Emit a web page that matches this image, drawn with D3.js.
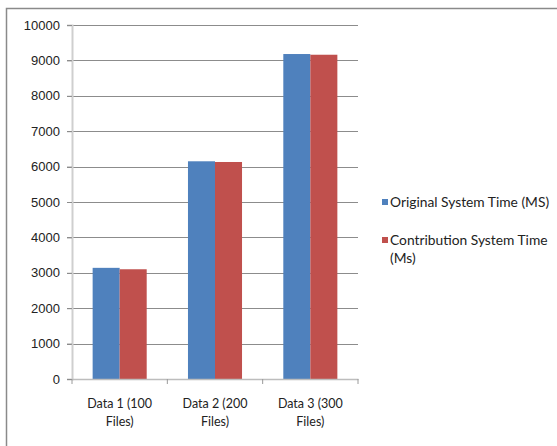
<!DOCTYPE html>
<html>
<head>
<meta charset="utf-8">
<script src="https://cdn.jsdelivr.net/npm/d3@7"></script>
<style>
  html, body { margin: 0; padding: 0; background: #fff; }
  svg { display: block; }
  text { font-family: "Liberation Sans", Arial, sans-serif; }
  .cat, .leg { font-family: Lato, "Open Sans", sans-serif; }
</style>
</head>
<body>
<svg id="chart" width="557" height="446"></svg>
<script>
// Categories and series
const categories = ["Data 1 (100 Files)", "Data 2 (200 Files)", "Data 3 (300 Files)"];
const categoryLines = [["Data 1 (100", "Files)"], ["Data 2 (200", "Files)"], ["Data 3 (300", "Files)"]];
const seriesNames = ["Original System Time (MS)", "Contribution System Time (Ms)"];
const legendLines = [["Original System Time (MS)"], ["Contribution System Time", "(Ms)"]];
const originalTime = [3140, 6150, 9180];
const contributionTime = [3100, 6130, 9160];
const yTicks = [0, 1000, 2000, 3000, 4000, 5000, 6000, 7000, 8000, 9000, 10000];
const colors = ["#4F81BD", "#C0504D"];

const svg = d3.select("#chart");

// Chart area frame
svg.append("rect")
  .attr("x", 6.5).attr("y", 8.5)
  .attr("width", 600).attr("height", 500)
  .attr("fill", "#fff").attr("stroke", "#8a8a8a").attr("stroke-width", 1.5);

const plot = { left: 72, right: 358, top: 25, bottom: 379 };

const x = d3.scaleBand().domain(categories).range([plot.left, plot.right]).paddingInner(0).paddingOuter(0);
const y = d3.scaleLinear().domain([0, 10000]).range([plot.bottom, plot.top]);
const groupWidth = x.bandwidth() * 0.567;
const xs = d3.scaleBand().domain(seriesNames).range([0, groupWidth]).padding(0);

// Gridlines
svg.append("g").selectAll("line").data(yTicks.filter(d => d > 0)).join("line")
  .attr("x1", plot.left - 5).attr("x2", plot.right)
  .attr("y1", d => Math.round(y(d)) + 0.5).attr("y2", d => Math.round(y(d)) + 0.5)
  .attr("stroke", "#8c8c8c").attr("stroke-width", 1);

// Y axis
const yAxis = svg.append("g").attr("transform", `translate(${plot.left},0)`)
  .call(d3.axisLeft(y).tickValues(yTicks).tickFormat(d3.format("d")).tickSize(5).tickPadding(7));
yAxis.select(".domain").attr("stroke", "#cfcfcf").attr("stroke-width", 2);
yAxis.selectAll(".tick line").attr("stroke", "#8c8c8c");
yAxis.selectAll(".tick text").attr("font-size", 13).attr("fill", "#222")
  .attr("font-family", "'Liberation Sans', Arial, sans-serif");

// Bars
const seriesData = [originalTime, contributionTime];
const groups = svg.append("g").selectAll("g").data(categories).join("g")
  .attr("transform", c => `translate(${x(c) + (x.bandwidth() - groupWidth) / 2},0)`);
groups.selectAll("rect").data((c, i) => seriesNames.map((s, k) => ({ s, k, v: seriesData[k][i] })))
  .join("rect")
  .attr("x", d => xs(d.s))
  .attr("width", xs.bandwidth())
  .attr("y", d => y(d.v))
  .attr("height", d => y(0) - y(d.v))
  .attr("fill", d => colors[d.k]);

// X axis
const xAxis = svg.append("g").attr("transform", `translate(0,${plot.bottom})`)
  .call(d3.axisBottom(x).tickSize(0).tickFormat(""));
xAxis.select(".domain").attr("stroke", "#bdbdbd").attr("stroke-width", 1.5);
svg.append("g").selectAll("line").data(categories.concat(["end"])).join("line")
  .attr("x1", (c, i) => plot.left + i * x.bandwidth()).attr("x2", (c, i) => plot.left + i * x.bandwidth())
  .attr("y1", plot.bottom).attr("y2", plot.bottom + 5)
  .attr("stroke", "#9a9a9a");

// Category labels
svg.append("g").selectAll("text").data(categories).join("text")
  .attr("class", "cat")
  .attr("text-anchor", "middle")
  .attr("font-size", 12.5).attr("fill", "#222")
  .attr("transform", c => `translate(${x(c) + x.bandwidth() / 2},408)`)
  .selectAll("tspan").data((c, i) => categoryLines[i]).join("tspan")
  .attr("x", 0).attr("dy", (d, j) => j === 0 ? 0 : 18).text(d => d);

// Legend
const legY = [202, 240];
const leg = svg.append("g").selectAll("g").data(seriesNames).join("g")
  .attr("transform", (d, i) => `translate(382,${legY[i]})`);
leg.append("rect").attr("x", 0).attr("y", -3).attr("width", 6).attr("height", 6)
  .attr("fill", (d, i) => colors[i]);
leg.append("text").attr("class", "leg").attr("font-size", 13.8).attr("fill", "#222")
  .attr("x", 8).attr("y", 5)
  .selectAll("tspan").data((d, i) => legendLines[i]).join("tspan")
  .attr("x", 8).attr("dy", (d, j) => j === 0 ? 0 : 18).text(d => d);
</script>
</body>
</html>
